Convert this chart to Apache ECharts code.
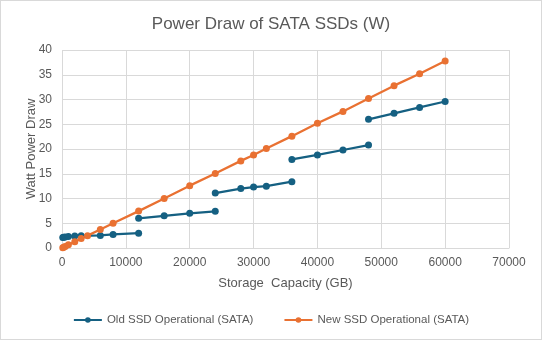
<!DOCTYPE html>
<html>
<head>
<meta charset="utf-8">
<script src="https://cdn.jsdelivr.net/npm/echarts@6/dist/echarts.min.js"></script>
<style>
html,body{margin:0;padding:0;background:#fff;}
#c{width:542px;height:340px;box-sizing:border-box;border:1px solid #D9D9D9;}
</style>
</head>
<body>
<div id="c"></div>
<script>
// Old SSD (SATA) – drawn as separate segments (gaps between capacity tiers)
var oldSeg1 = [[120,2.1],[250,2.15],[500,2.2],[1000,2.3],[2000,2.4],[3000,2.45],[6000,2.55],[8000,2.75],[12000,3.0]];
var oldSeg2 = [[12000,6.0],[16000,6.5],[20000,7.0],[24000,7.4]];
var oldSeg3 = [[24000,11.1],[28000,12.0],[30000,12.3],[32000,12.5],[36000,13.4]];
var oldSeg4 = [[36000,17.9],[40000,18.8],[44000,19.8],[48000,20.8]];
var oldSeg5 = [[48000,26.0],[52000,27.2],[56000,28.4],[60000,29.6]];

// New SSD (SATA)
var newCapacity = [120,250,500,1000,2000,3000,4000,6000,8000,12000,16000,20000,24000,28000,30000,32000,36000,40000,44000,48000,52000,56000,60000];
var newWatts    = [0.05,0.15,0.3,0.65,1.25,1.9,2.5,3.75,5.0,7.45,10.0,12.6,15.05,17.6,18.8,20.1,22.6,25.2,27.6,30.2,32.8,35.2,37.8];

var seriesNames = ['Old SSD Operational (SATA)','New SSD Operational (SATA)'];
var titleText = 'Power Draw of SATA SSDs (W)';
var xName = 'Storage  Capacity (GB)';
var yName = 'Watt Power Draw';

var oldData = [];
[oldSeg1,oldSeg2,oldSeg3,oldSeg4,oldSeg5].forEach(function(seg,i){
  if(i>0) oldData.push('-');
  seg.forEach(function(p){ oldData.push(p); });
});
var newData = newCapacity.map(function(x,i){ return [x,newWatts[i]]; });

var FONT = '"Liberation Sans", Arial, sans-serif';
var chart = echarts.init(document.getElementById('c'), null, {renderer:'canvas'});
chart.setOption({
  animation:false,
  textStyle:{fontFamily:FONT},
  title:{text:titleText,left:'center',top:10,textStyle:{fontFamily:FONT,fontSize:17,fontWeight:'normal',color:'#595959'}},
  grid:{left:61,right:32,top:49,bottom:91,containLabel:false},
  legend:{bottom:8,left:'center',itemWidth:28,itemHeight:7,itemGap:30,
    textStyle:{fontFamily:FONT,fontSize:11.5,color:'#595959'},data:seriesNames},
  xAxis:{type:'value',min:0,max:70000,interval:10000,
    name:xName,nameLocation:'middle',nameGap:29,nameMoveOverlap:false,
    nameTextStyle:{fontFamily:FONT,fontSize:13,color:'#595959'},
    axisLine:{show:true,lineStyle:{color:'#D9D9D9',width:1}},
    axisTick:{show:false},
    axisLabel:{color:'#595959',fontSize:12,fontFamily:FONT,margin:9,formatter:function(v){return String(v);}},
    splitLine:{show:true,lineStyle:{color:'#D9D9D9',width:1}}},
  yAxis:{type:'value',min:0,max:40,interval:5,
    name:yName,nameLocation:'middle',nameGap:24,nameRotate:90,nameMoveOverlap:false,
    nameTextStyle:{fontFamily:FONT,fontSize:13,color:'#595959'},
    axisLine:{show:false},axisTick:{show:false},
    axisLabel:{color:'#595959',fontSize:12,fontFamily:FONT,margin:10},
    splitLine:{show:true,lineStyle:{color:'#D9D9D9',width:1}}},
  series:[
    {name:seriesNames[0],type:'line',data:oldData,connectNulls:false,
     symbol:'circle',symbolSize:7,showAllSymbol:true,
     lineStyle:{color:'#156082',width:2.25},itemStyle:{color:'#156082'}},
    {name:seriesNames[1],type:'line',data:newData,
     symbol:'circle',symbolSize:7,showAllSymbol:true,
     lineStyle:{color:'#E97132',width:2.25},itemStyle:{color:'#E97132'}}
  ]
});
</script>
</body>
</html>
